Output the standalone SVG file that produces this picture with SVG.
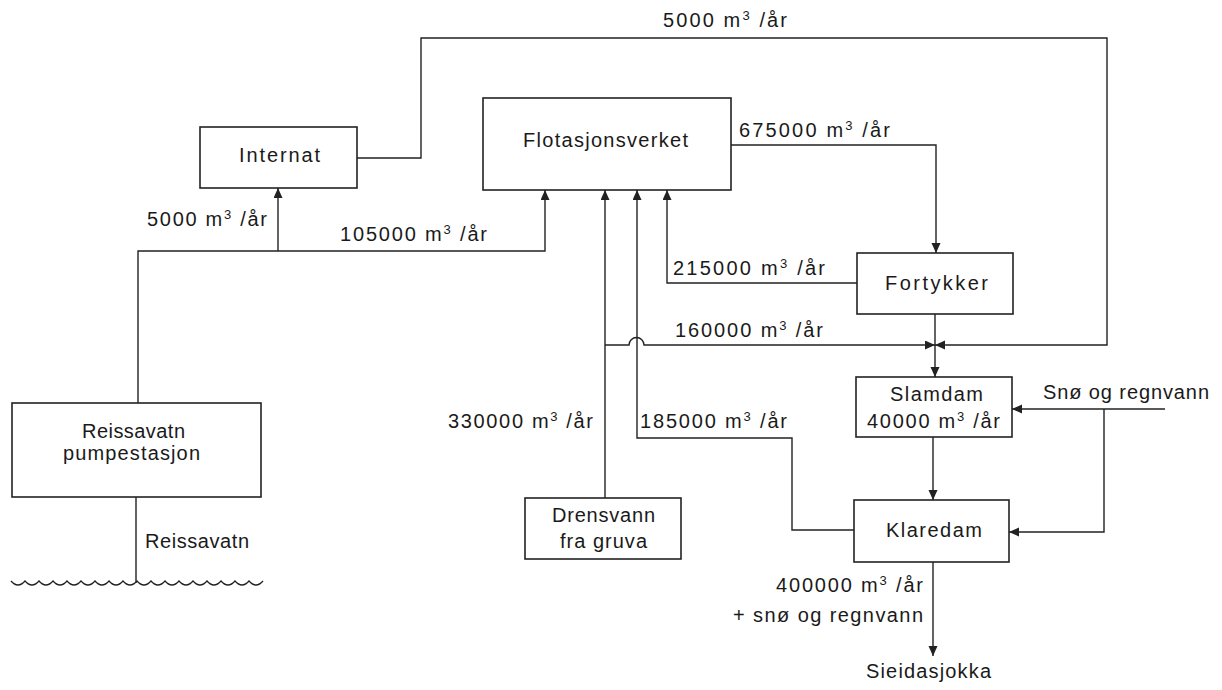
<svg xmlns="http://www.w3.org/2000/svg" width="1222" height="690" viewBox="0 0 1222 690">
<style>
.box{fill:#fff;stroke:#222;stroke-width:1.6}
.ln{fill:none;stroke:#222;stroke-width:1.4}
.arr{fill:none;stroke:#222;stroke-width:1.4;marker-end:url(#ah)}
text{font-family:"Liberation Sans",Arial,sans-serif;font-size:20px;fill:#1a1a1a}
.sup{font-size:13px}
</style>
<defs>
<marker id="ah" markerUnits="userSpaceOnUse" markerWidth="11" markerHeight="10" refX="10" refY="4.5" orient="auto">
<path d="M0,0 L10,4.5 L0,9 z" fill="#222"/>
</marker>
</defs>
<rect width="1222" height="690" fill="#fff"/>
<g id="connectors">
<path class="ln" d="M357,158 H421 V38 H1107 V345 H946"/>
<path class="arr" d="M946,345 H935"/>
<path class="arr" d="M731,145 H936 V253"/>
<path class="arr" d="M857,283 H667 V190"/>
<path class="arr" d="M935,314 V377"/>
<path class="ln" d="M605,345 H629 A7.5,7.5 0 0 1 644,345 H924"/>
<path class="arr" d="M924,345 H935"/>
<path class="arr" d="M605,498 V190"/>
<path class="arr" d="M854,530 H792 V438 H637 V190"/>
<path class="arr" d="M933,437 V500"/>
<path class="arr" d="M1165,409 H1012"/>
<path class="arr" d="M1104,409 V532 H1009"/>
<path class="arr" d="M933,562 V656"/>
<path class="arr" d="M138,403 V251 H545 V190"/>
<path class="arr" d="M278,251 V188"/>
<path class="ln" d="M136,497 V583"/>
<path class="ln" d="M11,581 q7,8 14,0 q7,8 14,0 q7,8 14,0 q7,8 14,0 q7,8 14,0 q7,8 14,0 q7,8 14,0 q7,8 14,0 q7,8 14,0 q7,8 14,0 q7,8 14,0 q7,8 14,0 q7,8 14,0 q7,8 14,0 q7,8 14,0 q7,8 14,0 q7,8 14,0 q7,8 14,0"/>
</g>
<g id="labels">
<text x="663" y="27" textLength="124" lengthAdjust="spacing">5000 m<tspan class="sup" dy="-7">3</tspan><tspan dy="7"> /år</tspan></text>
<text x="147" y="226" textLength="120" lengthAdjust="spacing">5000 m<tspan class="sup" dy="-7">3</tspan><tspan dy="7"> /år</tspan></text>
<text x="340" y="241" textLength="147" lengthAdjust="spacing">105000 m<tspan class="sup" dy="-7">3</tspan><tspan dy="7"> /år</tspan></text>
<text x="739" y="137" textLength="151" lengthAdjust="spacing">675000 m<tspan class="sup" dy="-7">3</tspan><tspan dy="7"> /år</tspan></text>
<text x="673" y="275" textLength="152" lengthAdjust="spacing">215000 m<tspan class="sup" dy="-7">3</tspan><tspan dy="7"> /år</tspan></text>
<text x="675" y="337" textLength="148" lengthAdjust="spacing">160000 m<tspan class="sup" dy="-7">3</tspan><tspan dy="7"> /år</tspan></text>
<text x="448" y="428" textLength="145" lengthAdjust="spacing">330000 m<tspan class="sup" dy="-7">3</tspan><tspan dy="7"> /år</tspan></text>
<text x="640" y="428" textLength="147" lengthAdjust="spacing">185000 m<tspan class="sup" dy="-7">3</tspan><tspan dy="7"> /år</tspan></text>
<text x="1043" y="399" textLength="166" lengthAdjust="spacing">Snø og regnvann</text>
<text x="776" y="592" textLength="147" lengthAdjust="spacing">400000 m<tspan class="sup" dy="-7">3</tspan><tspan dy="7"> /år</tspan></text>
<text x="733" y="622" textLength="190" lengthAdjust="spacing">+ snø og regnvann</text>
<text x="866" y="678" textLength="125" lengthAdjust="spacing">Sieidasjokka</text>
<text x="145" y="548" textLength="104" lengthAdjust="spacing">Reissavatn</text>
</g>
<g id="internat">
<rect class="box" x="200" y="127" width="157" height="61"/>
<text x="239" y="162" textLength="81" lengthAdjust="spacing">Internat</text>
</g>
<g id="flotasjonsverket">
<rect class="box" x="483" y="98" width="248" height="92"/>
<text x="523" y="147" textLength="165" lengthAdjust="spacing">Flotasjonsverket</text>
</g>
<g id="fortykker">
<rect class="box" x="857" y="253" width="156" height="61"/>
<text x="885" y="290" textLength="103" lengthAdjust="spacing">Fortykker</text>
</g>
<g id="slamdam">
<rect class="box" x="856" y="377" width="156" height="60"/>
<text x="890" y="401" textLength="93" lengthAdjust="spacing">Slamdam</text>
<text x="867" y="428" textLength="133" lengthAdjust="spacing">40000 m<tspan class="sup" dy="-7">3</tspan><tspan dy="7"> /år</tspan></text>
</g>
<g id="klaredam">
<rect class="box" x="854" y="500" width="155" height="62"/>
<text x="886" y="537" textLength="96" lengthAdjust="spacing">Klaredam</text>
</g>
<g id="drensvann">
<rect class="box" x="525" y="498" width="156" height="61"/>
<text x="552" y="522" textLength="103" lengthAdjust="spacing">Drensvann</text>
<text x="560" y="548" textLength="87" lengthAdjust="spacing">fra gruva</text>
</g>
<g id="reissavatn-pumpestasjon">
<rect class="box" x="12" y="403" width="249" height="94"/>
<text x="82" y="438" textLength="103" lengthAdjust="spacing">Reissavatn</text>
<text x="63" y="460" textLength="137" lengthAdjust="spacing">pumpestasjon</text>
</g>
</svg>
